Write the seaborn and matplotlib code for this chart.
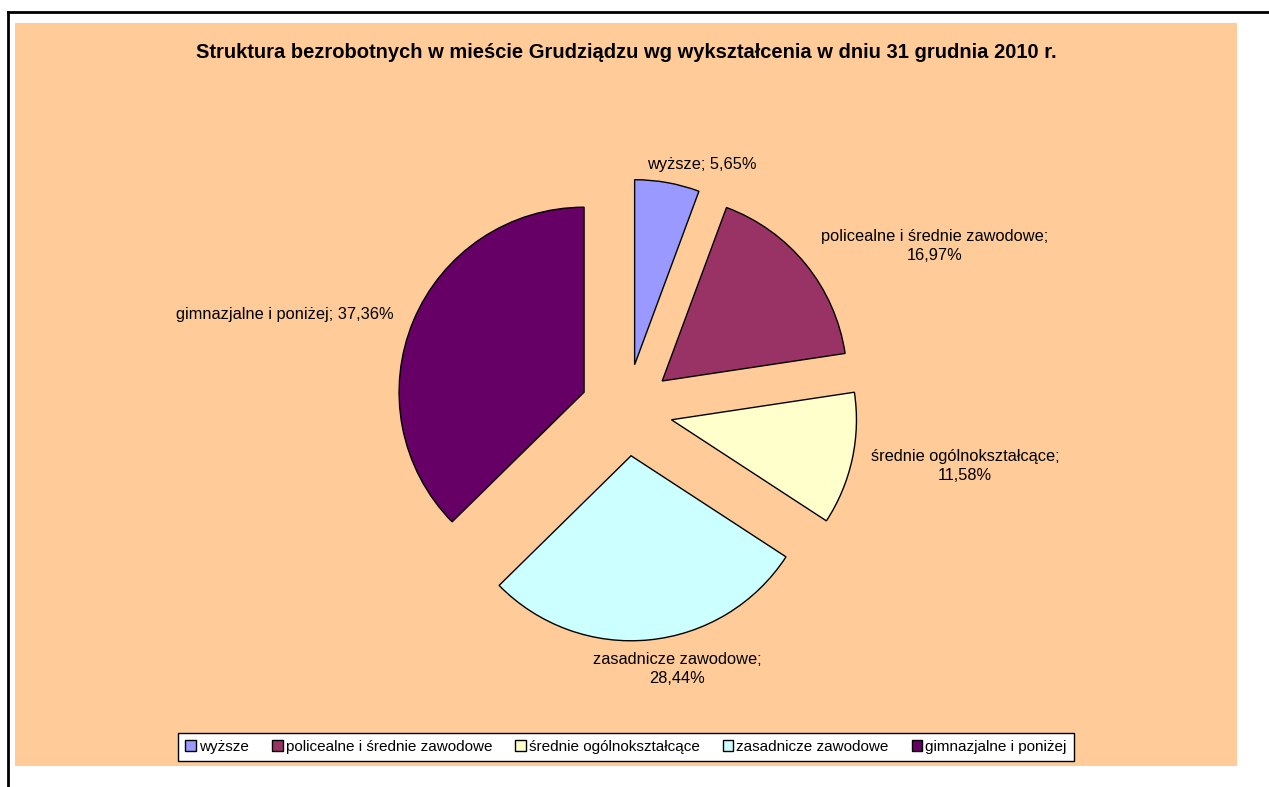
import matplotlib
matplotlib.use('Agg')
import matplotlib.pyplot as plt
import seaborn as sns
from matplotlib.patches import Rectangle
from matplotlib.lines import Line2D

#---------------------------------------------------------
title='Struktura bezrobotnych w mieście Grudziądzu wg wykształcenia w dniu 31 grudnia 2010 r.'
categories=['wyższe', 'policealne i średnie zawodowe', 'średnie ogólnokształcące',
	'zasadnicze zawodowe', 'gimnazjalne i poniżej']
shares=[5.65, 16.97, 11.58, 28.44, 37.36]
slice_labels=['wyższe; 5,65%', 'policealne i średnie zawodowe;\n16,97%',
	'średnie ogólnokształcące;\n11,58%', 'zasadnicze zawodowe;\n28,44%',
	'gimnazjalne i poniżej; 37,36%']
colors=sns.color_palette(['#9999FF', '#993366', '#FFFFCC', '#CCFFFF', '#660066'])

#--------------------------------------------------------
W, H=1269, 787
plt.rcParams['font.family']=['Liberation Sans', 'DejaVu Sans']

fig=plt.figure(figsize=(W/100, H/100), dpi=100, facecolor='white')
#peach chart area + clipped black frame
fig.patches.append(Rectangle((15/W, 1-766/H), (1237-15)/W, (766-23)/H,
	transform=fig.transFigure, facecolor='#FFCC99', edgecolor='none', zorder=-1))
fig.lines.append(Line2D([8/W, 8/W], [0, 1-12/H], transform=fig.transFigure, color='black', lw=2))
fig.lines.append(Line2D([8/W, 1], [1-12/H, 1-12/H], transform=fig.transFigure, color='black', lw=2))

ax=fig.add_axes([0, 0, 1, 1])
ax.set_facecolor('none')

#pie (pixel data coords, y up); explode is in data units here
cx, cy, r=626.5, H-410, 185
wedges, texts=ax.pie(shares, labels=slice_labels, colors=colors, startangle=90, counterclock=False,
	explode=[46]*len(shares), radius=r, center=(cx, cy), frame=True,
	wedgeprops=dict(edgecolor='black', linewidth=1.0),
	textprops=dict(fontsize=11.8, color='black', linespacing=1.3))

#label placement (pixel positions)
lbl_pos=[(702, 165), (935, 246), (965, 466), (677, 669), (285, 314)]
for t, (px, py) in zip(texts, lbl_pos):
	t.set_position((px, H-py))
	t.set_ha('center')
	t.set_va('center')

ax.set_xlim(0, W)
ax.set_ylim(0, H)
ax.set_aspect('auto')
ax.axis('off')

#title
fig.text(626/W, 1-53/H, title, ha='center', va='center', fontsize=14.5, weight='bold')

#legend
leg=fig.legend(wedges, categories, loc='center', bbox_to_anchor=(626/W, 1-747/H), ncol=5,
	fontsize=11, frameon=True, fancybox=False, edgecolor='black', facecolor='white', framealpha=1,
	handlelength=0.7, handleheight=0.7, handletextpad=0.2, columnspacing=1.5, borderpad=0.45)
leg.get_frame().set_linewidth(1.0)

plt.savefig('out.png', dpi=100, facecolor='white')
plt.close()
